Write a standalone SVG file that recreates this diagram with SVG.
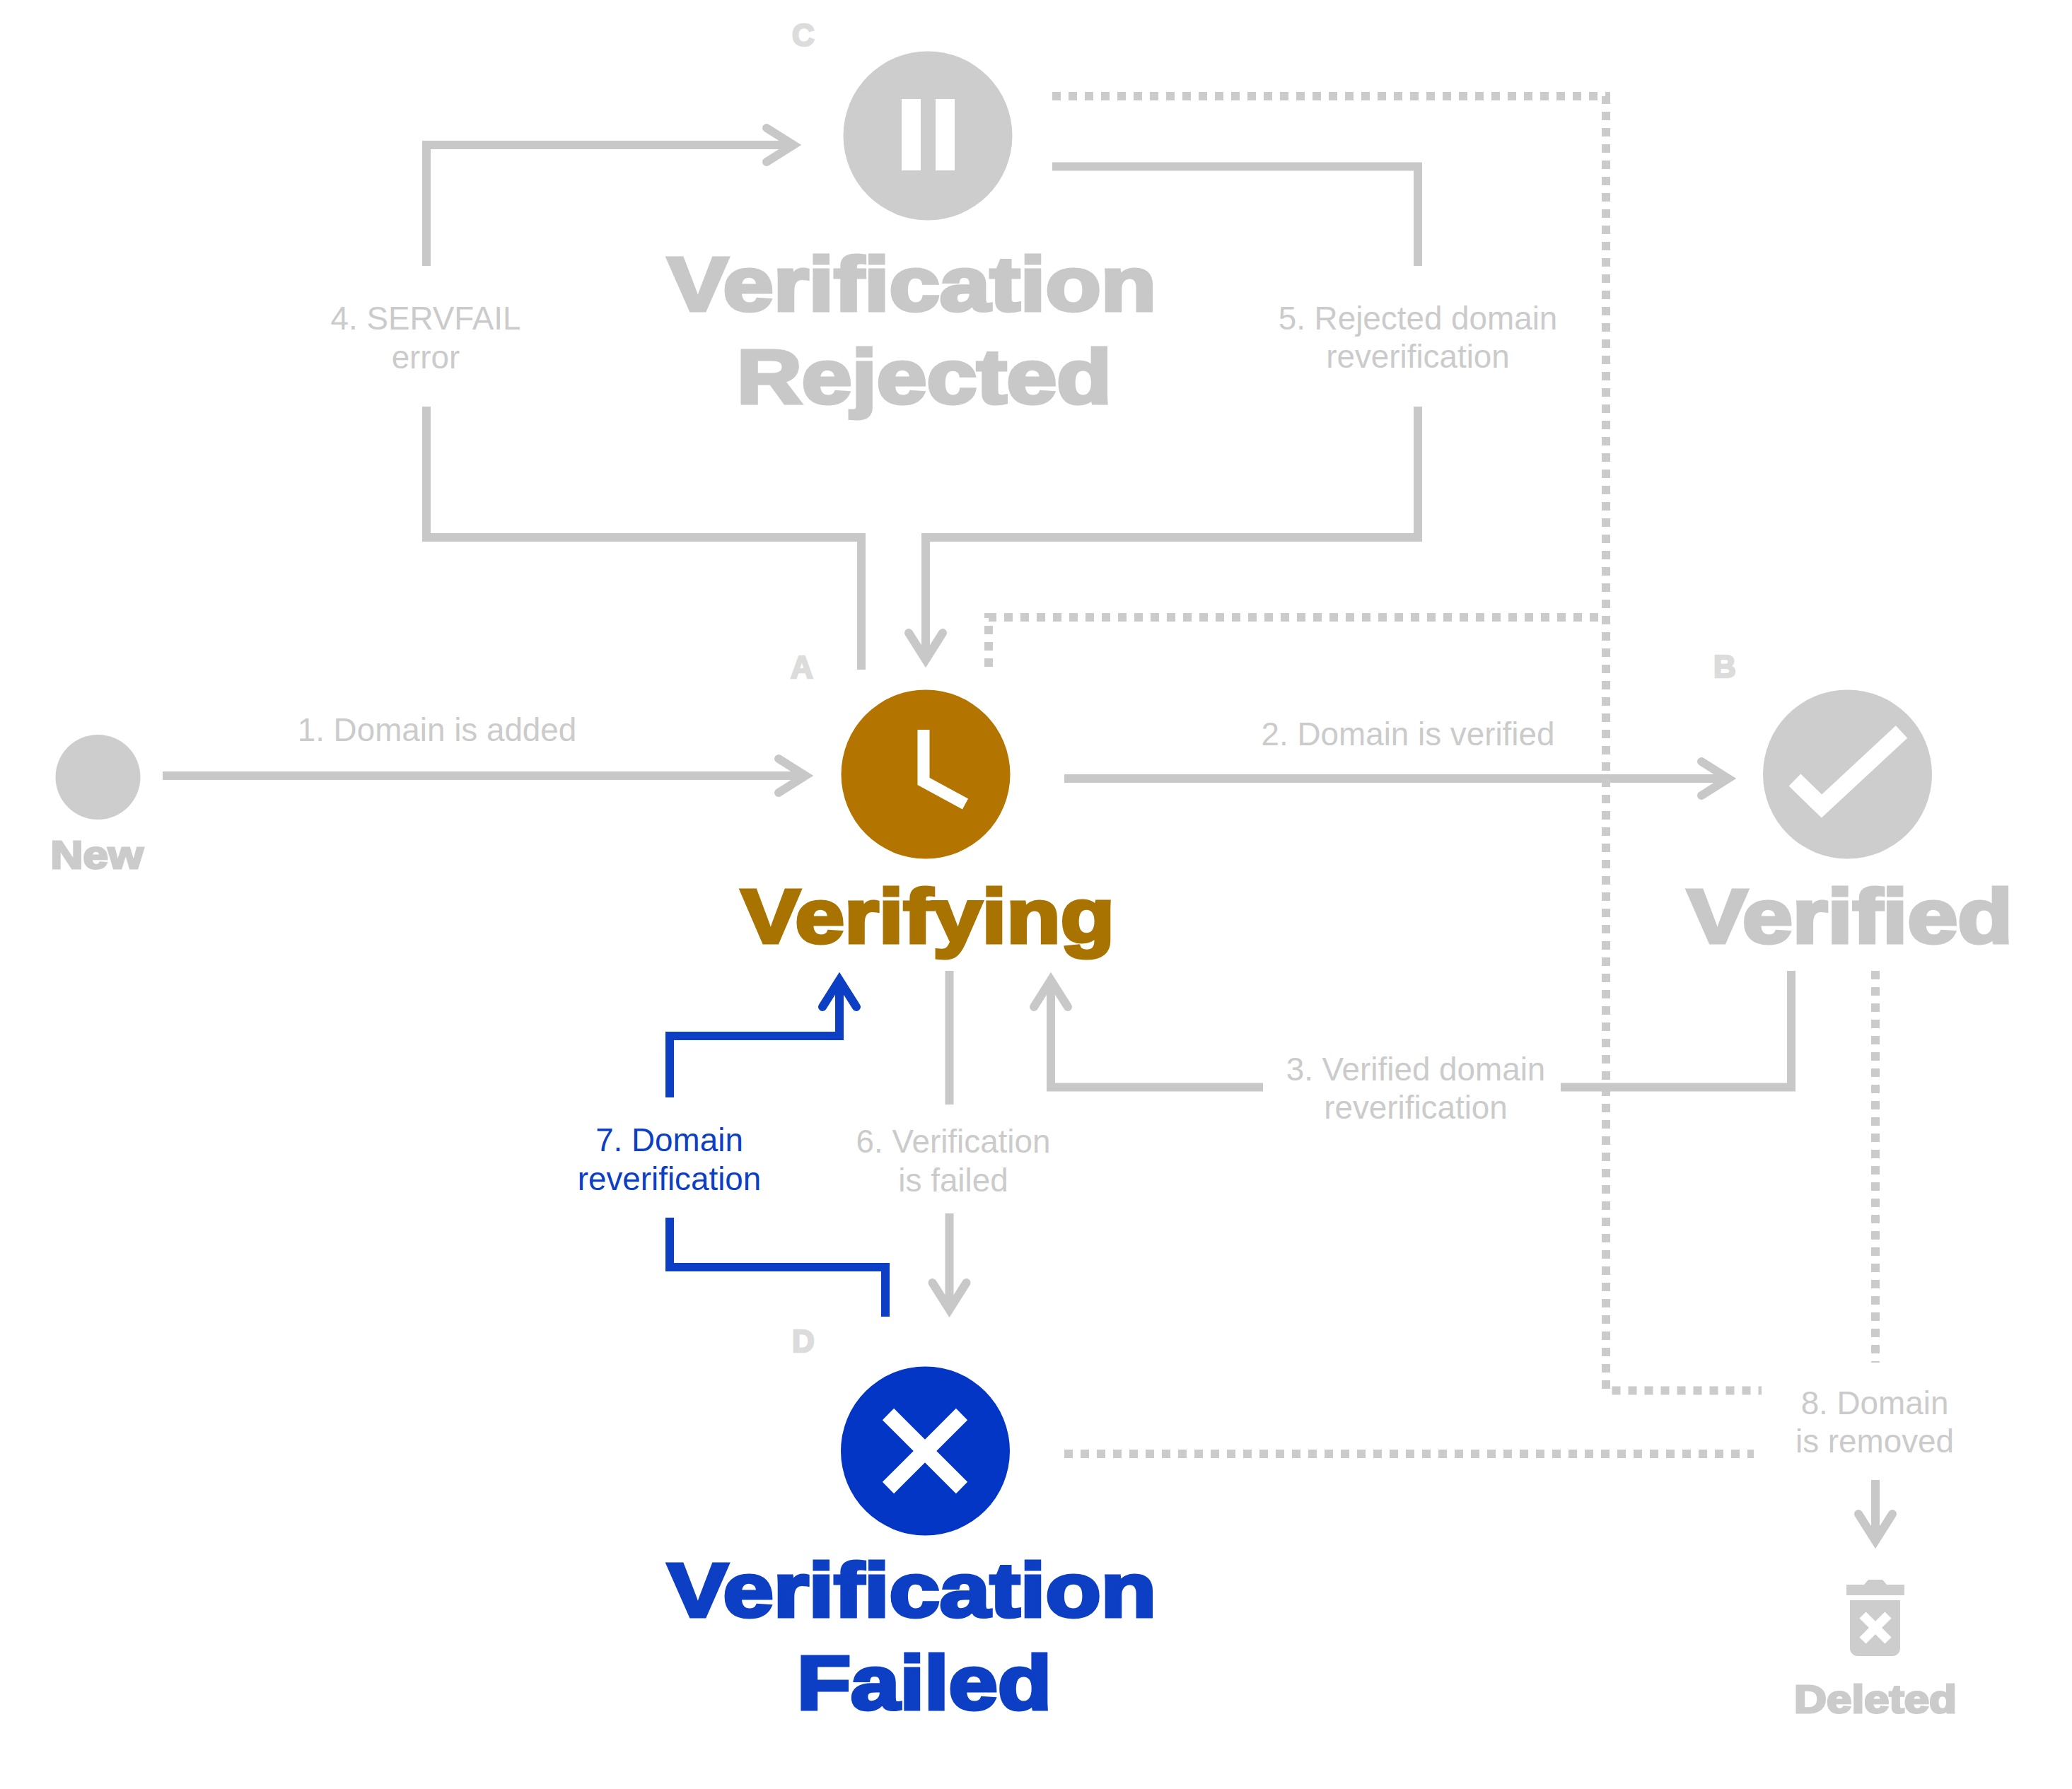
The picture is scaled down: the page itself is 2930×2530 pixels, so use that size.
<svg xmlns="http://www.w3.org/2000/svg" width="2930" height="2530" viewBox="0 0 2930 2530">
<style>
.l{fill:none;stroke:#c8c8c8;stroke-width:12}
.b{fill:none;stroke:#0d3fc4;stroke-width:12}
.d{fill:none;stroke:#cbcbcb;stroke-width:12;stroke-dasharray:12 11}
.a{marker-end:url(#ag)}
.t{font-family:"Liberation Sans",Arial,sans-serif;font-size:45.800px;text-anchor:middle;fill:#cbcbcb}
.tb{fill:#0d3fc4}
.h{font-family:"Liberation Sans",Arial,sans-serif;font-weight:700;font-size:108px;text-anchor:middle;stroke-width:5;stroke:#c8c8c8;fill:#c8c8c8}
.s{font-family:"Liberation Sans",Arial,sans-serif;font-weight:700;font-size:55px;text-anchor:middle;fill:#cbcbcb;stroke:#cbcbcb;stroke-width:3}
.k{font-family:"Liberation Sans",Arial,sans-serif;font-weight:700;font-size:44px;text-anchor:middle;fill:#dcdcdc;stroke:#dcdcdc;stroke-width:2.500}
.g{fill:#cdcdcd}
.w{fill:none;stroke:#fff}
</style>
<defs>
<marker id="ag" markerUnits="userSpaceOnUse" markerWidth="80" markerHeight="80" refX="50" refY="40" orient="auto" overflow="visible"><path d="M12,16L50,40L12,64" fill="none" stroke="#c8c8c8" stroke-width="12" stroke-linecap="round"/></marker>
<marker id="ab" markerUnits="userSpaceOnUse" markerWidth="80" markerHeight="80" refX="50" refY="40" orient="auto" overflow="visible"><path d="M12,16L50,40L12,64" fill="none" stroke="#0d3fc4" stroke-width="12" stroke-linecap="round"/></marker>
</defs>
<rect width="2930" height="2530" fill="#fff"/>
<g id="connectors">
<path class="l a" d="M230,1097H1139"/>
<path class="l a" d="M1505,1101H2444"/>
<path class="l a" d="M603,376V205H1122"/>
<path class="l" d="M1488,235.500H2005V376"/>
<path class="l" d="M603,575V760H1218V947"/>
<path class="l a" d="M2005,575V760H1309V933"/>
<path class="d" d="M1488,136H2271V1966.500H2491"/>
<path class="d" d="M1398,943V873H2271"/>
<path class="l" d="M2533,1373V1537.500H2207"/>
<path class="l a" d="M1786,1537.500H1486V1386"/>
<path class="l" d="M1342.500,1373V1562"/>
<path class="l a" d="M1342.500,1716V1852"/>
<path class="b" d="M947,1552V1465H1187V1386" marker-end="url(#ab)"/>
<path class="b" d="M947,1722V1792H1252V1862"/>
<path class="d" d="M1505,2056H2480"/>
<path class="d" d="M2652,1373V1927"/>
<path class="l a" d="M2652,2093V2179"/>
</g>
<g id="labels">
<text class="t" x="618" y="1048">1. Domain is added</text>
<text class="t" x="1991" y="1054">2. Domain is verified</text>
<text class="t" x="602" y="466">4. SERVFAIL</text><text class="t" x="602" y="521">error</text>
<text class="t" x="2005" y="466">5. Rejected domain</text><text class="t" x="2005" y="520">reverification</text>
<text class="t" x="2002" y="1528">3. Verified domain</text><text class="t" x="2002" y="1582">reverification</text>
<text class="t" x="1348" y="1630">6. Verification</text><text class="t" x="1348" y="1685">is failed</text>
<text class="t tb" x="946.500" y="1628">7. Domain</text><text class="t tb" x="946.500" y="1683">reverification</text>
<text class="t" x="2651" y="2000">8. Domain</text><text class="t" x="2651" y="2054">is removed</text>
</g>
<g id="node-new"><circle class="g" cx="138.500" cy="1099" r="60"/><text class="s" x="137" y="1228" textLength="131" lengthAdjust="spacingAndGlyphs">New</text></g>
<g id="node-a"><text class="k" x="1134" y="959">A</text><circle cx="1309" cy="1095" r="119.500" fill="#b37400"/><path class="w" stroke-width="17" d="M1306,1032V1105L1365,1137"/><text class="h" x="1312" y="1333" textLength="528" lengthAdjust="spacingAndGlyphs" style="fill:#a87300;stroke:#a87300">Verifying</text></g>
<g id="node-b"><text class="k" x="2439" y="958">B</text><circle class="g" cx="2612.500" cy="1095" r="119.500"/><path class="w" stroke-width="24" d="M2538,1103L2576,1140L2689,1035"/><text class="h" x="2616" y="1333" textLength="460" lengthAdjust="spacingAndGlyphs">Verified</text></g>
<g id="node-c"><text class="k" x="1136" y="65">C</text><circle class="g" cx="1312" cy="192" r="119.500"/><path fill="#fff" d="M1275,140h27v101h-27zM1323,140h27v101h-27z"/><text class="h" x="1289.500" y="439" textLength="691" lengthAdjust="spacingAndGlyphs">Verification</text><text class="h" x="1307" y="570" textLength="530" lengthAdjust="spacingAndGlyphs">Rejected</text></g>
<g id="node-d"><text class="k" x="1136" y="1912">D</text><circle cx="1308.500" cy="2052" r="119.500" fill="#0336c4"/><path class="w" stroke-width="23" d="M1256,2000L1360,2104M1360,2000L1256,2104"/><text class="h" x="1289.500" y="2286" textLength="691" lengthAdjust="spacingAndGlyphs" style="fill:#0d3fc4;stroke:#0d3fc4">Verification</text><text class="h" x="1307" y="2417" textLength="360" lengthAdjust="spacingAndGlyphs" style="fill:#0d3fc4;stroke:#0d3fc4">Failed</text></g>
<g id="node-deleted"><path class="g" d="M2611,2241h25l6,-7h20l6,7h25v15h-82zM2616,2263h71v68a11,11 0 0 1 -11,11h-49a11,11 0 0 1 -11,-11z"/><path class="w" stroke-width="13" d="M2634,2284L2670,2320M2670,2284L2634,2320"/><text class="s" x="2652" y="2422" textLength="230" lengthAdjust="spacingAndGlyphs">Deleted</text></g>
</svg>
